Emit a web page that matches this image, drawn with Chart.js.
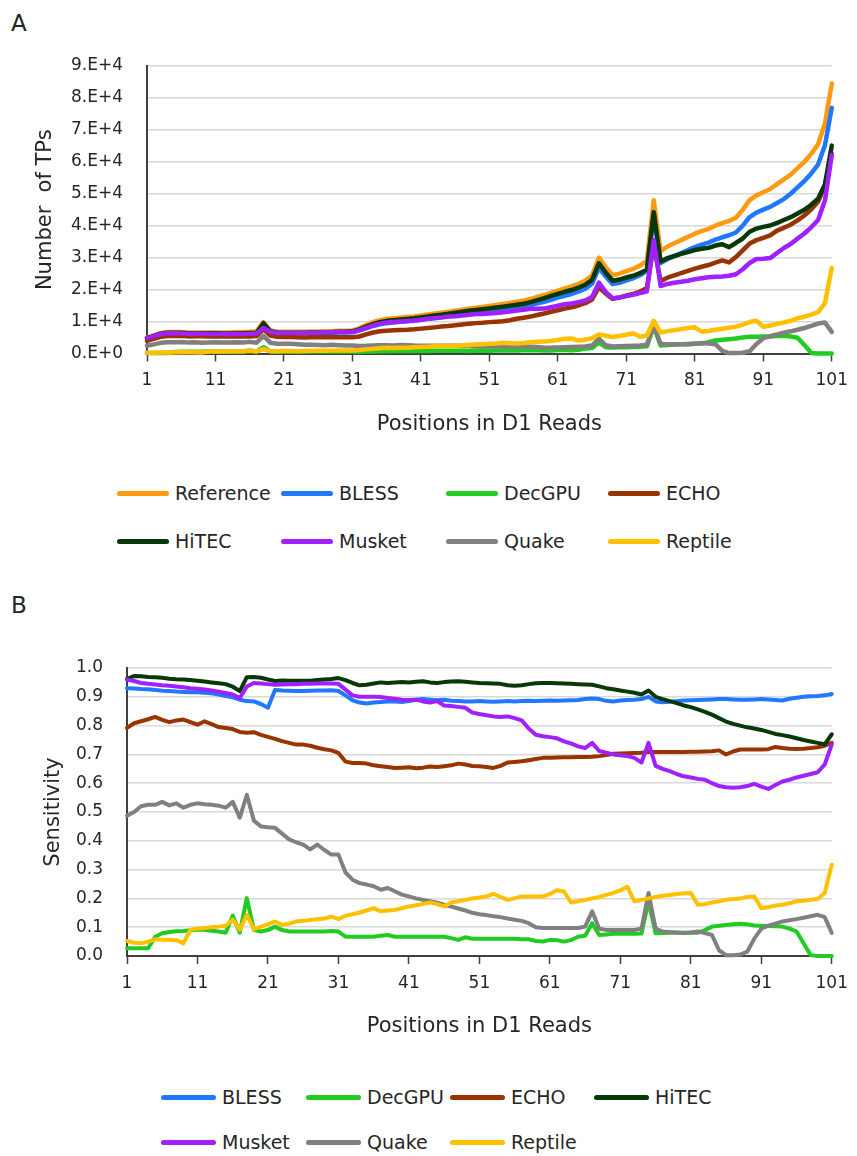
<!DOCTYPE html>
<html>
<head>
<meta charset="utf-8">
<script src="https://cdn.jsdelivr.net/npm/chart.js@4.4.1/dist/chart.umd.min.js"></script>
<style>
  html, body { margin: 0; padding: 0; background: #fff; }
  #page { position: relative; width: 857px; height: 1156px; overflow: hidden;
          font-family: "DejaVu Sans", sans-serif; color: #262626; }
  .panel-label { position: absolute; font-size: 23px; line-height: 23px; }
  .box { position: absolute; left: 0; width: 857px; }
  .legend-item { position: absolute; display: flex; align-items: center; font-size: 19px;
                 line-height: 22px; white-space: nowrap; transform: translateY(-50%); }
  .legend-item .swatch { height: 5px; border-radius: 3px; margin-right: 6px; }
</style>
</head>
<body>
<div id="page">
  <div class="panel-label" style="left:11px;top:12px">A</div>
  <div class="box" style="top:0;height:450px"><canvas id="chartA"></canvas></div>
  <div class="panel-label" style="left:11px;top:594px">B</div>
  <div class="box" style="top:600px;height:450px"><canvas id="chartB"></canvas></div>
  <div id="legendA"></div>
  <div id="legendB"></div>
</div>
<script>
// ---- categories ----
const positions = [];
for (let p = 1; p <= 101; p++) positions.push(String(p));

const toolsA = ['Reference', 'BLESS', 'DecGPU', 'ECHO', 'HiTEC', 'Musket', 'Quake', 'Reptile'];
const toolsB = ['BLESS', 'DecGPU', 'ECHO', 'HiTEC', 'Musket', 'Quake', 'Reptile'];

const toolColors = {
  Reference: '#FF9A0F', BLESS: '#1F78FF', DecGPU: '#1FCC1F', ECHO: '#993300',
  HiTEC: '#073807', Musket: '#A020FF', Quake: '#808080', Reptile: '#FFC000'
};

// ---- panel A: number of true positives per read position ----
const referenceTP = [5000,5700,6400,6700,6700,6700,6600,6600,6600,6600,
  6600,6600,6600,6700,6700,6800,7000,9800,7200,6800,
  6800,6800,6800,6800,6900,6900,7000,7000,7100,7100,
  7200,7900,8900,9800,10400,10800,11000,11200,11400,11600,
  11900,12200,12500,12800,13100,13400,13700,14000,14300,14600,
  14900,15200,15500,15800,16200,16600,17100,17700,18300,19000,
  19700,20400,21000,21800,22800,24500,30000,27000,24500,25000,
  25800,26500,27500,29000,48000,32000,33500,34500,35500,36500,
  37500,38300,39000,40000,40800,41500,42500,45000,48000,49500,
  50500,51500,53000,54500,56000,58000,60000,62500,65500,72000,
  84500];
const blessTP = [4650,5300,5930,6200,6190,6170,6070,6060,6050,6050,
  6050,6030,6020,6080,6050,6110,6230,8670,6360,5950,
  5860,6280,6270,6260,6350,6350,6450,6450,6550,6550,
  6620,7150,7900,8620,9120,9500,9700,9900,10080,10230,
  10530,10860,11150,11390,11630,11930,12140,12390,12640,12910,
  13190,13440,13690,13970,14340,14670,15130,15680,16200,16830,
  17470,18070,18630,19360,20270,21850,26820,24080,21710,22100,
  22880,23560,24480,25870,43200,28290,29510,30460,31420,32380,
  33300,34050,34710,35640,36390,37020,37870,40050,42720,44100,
  45050,45890,47120,48340,50010,52030,54000,56380,59150,65160,
  76900];
const decgpuTP = [140,150,170,180,450,530,550,570,570,590,
  600,600,580,570,540,950,570,1970,660,580,
  610,690,610,590,590,590,600,600,600,600,
  610,530,600,660,700,720,770,820,760,780,
  800,820,840,860,880,900,850,780,930,880,
  890,910,930,950,970,1000,990,1030,950,950,
  1100,1120,1050,1200,1530,1720,3420,1970,1840,1930,
  1990,2040,2120,2260,8500,2530,2680,2790,2880,2960,
  3040,3100,3510,4080,4280,4480,4680,5040,5280,5250,
  5300,5360,5460,5560,5320,4930,2640,190,0,0,
  0];
const echoTP = [3960,4610,5220,5510,5560,5490,5360,5400,5420,5360,
  5300,5380,5310,5330,5310,5360,5450,7600,5590,5220,
  5170,5130,5070,5030,5060,5060,5110,5060,5100,5070,
  5080,5330,5960,6570,6950,7150,7250,7350,7440,7590,
  7790,7950,8180,8420,8590,8830,9070,9350,9510,9640,
  9820,9970,10120,10430,10890,11190,11560,12040,12520,13070,
  13550,14060,14490,15040,15750,16930,20760,18740,17100,17550,
  18140,18660,19390,20470,33980,22660,23720,24430,25130,25840,
  26590,27150,27690,28440,29130,28500,30180,32270,34420,35490,
  36210,36980,38480,39350,40320,41700,43200,45130,47490,52560,
  62530];
const hitecTP = [4810,5540,6210,6490,6490,6470,6360,6340,6340,6320,
  6310,6290,6270,6340,6320,6390,6440,9490,6980,6570,
  6530,6490,6510,6500,6600,6600,6690,6710,6820,6830,
  6950,7570,8440,9210,9800,10220,10450,10620,10830,11030,
  11310,11610,11930,12160,12420,12740,13060,13360,13610,13870,
  14130,14390,14660,14930,15230,15570,16070,16710,17330,18010,
  18680,19320,19870,20600,21520,23100,28260,25270,22790,23150,
  23790,24330,25140,26330,44260,28800,29880,30530,31170,31760,
  32400,32780,33070,33800,34200,33300,34600,36000,38110,39110,
  39640,40070,40860,41800,42670,43850,45000,46560,48470,52920,
  65070];
const musketTP = [4800,5440,6070,6330,6320,6300,6190,6180,6160,6140,
  6120,6110,6090,6150,6120,6170,6270,8000,6830,6430,
  6420,6410,6410,6420,6510,6520,6620,6620,6720,6720,
  6800,7310,8050,8820,9360,9720,9890,10040,10180,10320,
  10580,10860,11050,11260,11590,11660,11890,12110,12330,12340,
  12520,12710,12900,13110,13480,13710,13990,13980,14050,14500,
  14970,15420,15650,16090,16600,17690,22200,19220,17300,17500,
  17980,18390,18920,19490,35520,21120,21780,22150,22440,22780,
  23250,23550,23870,24000,24070,24320,24820,26370,28320,29600,
  29690,29870,31480,33030,34270,35960,37560,39500,41790,47880,
  62110];
const quakeTP = [2440,2850,3330,3520,3520,3580,3450,3500,3400,3470,
  3500,3480,3470,3500,3450,3640,3360,5490,3380,3060,
  3040,3030,2890,2750,2730,2670,2590,2710,2610,2500,
  2530,2370,2400,2480,2580,2610,2530,2640,2570,2470,
  2460,2440,2440,2430,2420,2390,2360,2310,2260,2190,
  2160,2160,2140,2130,2110,2090,2090,2020,1830,1840,
  1910,1980,2040,2110,2210,2500,4650,2570,2210,2250,
  2320,2390,2480,2760,8800,3040,2850,2860,2910,2920,
  3080,3260,3120,2920,820,120,130,230,720,2970,
  4800,5410,5940,6540,6940,7420,7980,8630,9370,9720,
  6760];
const reptileTP = [260,260,280,340,390,380,370,360,290,600,
  630,640,660,680,700,860,640,1400,670,690,
  750,820,730,760,830,840,880,900,920,970,
  920,1110,1290,1480,1640,1790,1710,1770,1820,1930,
  2050,2150,2260,2380,2360,2300,2550,2660,2790,2920,
  3020,3150,3350,3240,3160,3320,3540,3660,3790,3930,
  4240,4650,4700,4050,4330,4780,6000,5540,5190,5480,
  5880,6360,5230,5660,10200,6560,7000,7310,7630,7960,
  8210,6820,7020,7440,7750,8090,8420,9000,9840,10250,
  8380,8760,9280,9700,10250,11020,11520,12190,12970,15770,
  26790];

// ---- panel B: sensitivity per read position ----
const blessSens = [.930,.929,.927,.926,.924,.921,.920,.918,.917,.916,
  .916,.914,.912,.908,.903,.898,.890,.885,.884,.875,
  .862,.924,.922,.921,.920,.920,.921,.922,.922,.923,
  .920,.905,.888,.880,.877,.880,.882,.884,.884,.882,
  .885,.890,.892,.890,.888,.890,.886,.885,.884,.884,
  .885,.884,.883,.884,.885,.884,.885,.886,.885,.886,
  .887,.886,.887,.888,.889,.892,.894,.892,.886,.884,
  .887,.889,.890,.892,.900,.884,.881,.883,.885,.887,
  .888,.889,.890,.891,.892,.892,.891,.890,.890,.891,
  .892,.891,.889,.887,.893,.897,.900,.902,.903,.905,
  .910];
const decgpuSens = [.027,.027,.027,.027,.067,.079,.083,.086,.087,.089,
  .091,.091,.088,.085,.081,.140,.081,.201,.091,.085,
  .090,.102,.090,.085,.085,.085,.085,.085,.085,.087,
  .085,.067,.067,.067,.067,.067,.070,.073,.067,.067,
  .067,.067,.067,.067,.067,.067,.062,.056,.065,.060,
  .060,.060,.060,.060,.060,.060,.058,.058,.052,.050,
  .056,.055,.050,.055,.067,.070,.114,.073,.075,.077,
  .077,.077,.077,.078,.190,.079,.080,.081,.081,.081,
  .081,.081,.090,.102,.105,.108,.110,.112,.110,.106,
  .105,.104,.103,.102,.095,.085,.044,.003,0,0,
  0];
const echoSens = [.792,.808,.815,.822,.830,.820,.812,.818,.821,.812,
  .803,.815,.805,.795,.792,.788,.778,.775,.777,.768,
  .761,.754,.746,.740,.734,.734,.730,.723,.718,.714,
  .705,.675,.670,.670,.668,.662,.659,.656,.653,.654,
  .655,.652,.654,.658,.656,.659,.662,.668,.665,.660,
  .659,.656,.653,.660,.672,.674,.676,.680,.684,.688,
  .688,.689,.690,.690,.691,.691,.692,.694,.698,.702,
  .703,.704,.705,.706,.708,.708,.708,.708,.708,.708,
  .709,.709,.710,.711,.714,.700,.710,.717,.717,.717,
  .717,.718,.726,.722,.720,.719,.720,.722,.725,.730,
  .740];
const hitecSens = [.962,.972,.971,.969,.968,.966,.963,.961,.960,.958,
  .956,.953,.950,.947,.944,.935,.920,.968,.969,.966,
  .960,.955,.957,.956,.956,.956,.956,.958,.960,.962,
  .965,.958,.948,.940,.942,.946,.950,.948,.950,.951,
  .950,.952,.954,.950,.948,.951,.953,.954,.952,.950,
  .948,.947,.946,.945,.940,.938,.940,.944,.947,.948,
  .948,.947,.946,.945,.944,.943,.942,.936,.930,.926,
  .922,.918,.914,.908,.922,.900,.892,.885,.878,.870,
  .864,.856,.848,.838,.826,.814,.806,.800,.794,.790,
  .785,.778,.771,.767,.762,.756,.750,.745,.740,.735,
  .770];
const musketSens = [.960,.955,.948,.945,.943,.940,.938,.936,.933,.930,
  .928,.925,.922,.918,.913,.908,.896,.936,.948,.946,
  .944,.942,.943,.944,.944,.945,.945,.946,.946,.946,
  .945,.925,.905,.900,.900,.900,.899,.896,.893,.890,
  .889,.890,.884,.880,.885,.870,.868,.865,.862,.845,
  .840,.836,.832,.830,.832,.826,.818,.790,.768,.763,
  .760,.756,.745,.738,.728,.722,.740,.712,.706,.700,
  .697,.694,.688,.672,.740,.660,.650,.642,.632,.624,
  .620,.615,.612,.600,.590,.586,.584,.586,.590,.598,
  .588,.580,.594,.606,.612,.620,.626,.632,.638,.665,
  .735];
const quakeSens = [.487,.500,.520,.525,.525,.535,.523,.530,.515,.525,
  .530,.527,.525,.522,.515,.535,.480,.560,.470,.450,
  .447,.445,.425,.405,.395,.387,.370,.387,.368,.352,
  .352,.290,.265,.253,.248,.242,.230,.236,.225,.213,
  .207,.200,.195,.190,.185,.178,.172,.165,.158,.150,
  .145,.142,.138,.135,.130,.126,.122,.114,.100,.097,
  .097,.097,.097,.097,.097,.102,.155,.095,.090,.090,
  .090,.090,.090,.095,.219,.095,.085,.083,.082,.080,
  .082,.085,.080,.073,.020,.003,.003,.005,.015,.060,
  .095,.105,.112,.120,.124,.128,.133,.138,.143,.135,
  .080];
const reptileSens = [.052,.046,.044,.050,.058,.056,.056,.055,.044,.091,
  .095,.097,.100,.102,.105,.126,.091,.143,.093,.102,
  .110,.120,.108,.112,.120,.122,.125,.128,.130,.137,
  .128,.140,.145,.151,.158,.166,.155,.158,.160,.166,
  .172,.176,.181,.186,.180,.172,.186,.190,.195,.200,
  .203,.207,.216,.205,.195,.200,.207,.207,.207,.207,
  .215,.228,.224,.186,.190,.195,.200,.205,.212,.219,
  .228,.240,.190,.195,.200,.205,.209,.212,.215,.218,
  .219,.178,.180,.186,.190,.195,.198,.200,.205,.207,
  .166,.170,.175,.178,.183,.190,.192,.195,.198,.219,
  .317];

const seriesA = { Reference: referenceTP, BLESS: blessTP, DecGPU: decgpuTP, ECHO: echoTP,
  HiTEC: hitecTP, Musket: musketTP, Quake: quakeTP, Reptile: reptileTP };
const seriesB = { BLESS: blessSens, DecGPU: decgpuSens, ECHO: echoSens, HiTEC: hitecSens,
  Musket: musketSens, Quake: quakeSens, Reptile: reptileSens };

// y tick labels of panel A in Excel's "0.E+0" style
function sciLabel(v) {
  if (v === 0) return '0.E+0';
  const e = Math.floor(Math.log10(v) + 1e-9);
  return Math.round(v / Math.pow(10, e)) + '.E+' + e;
}

Chart.defaults.font.family = '"DejaVu Sans", sans-serif';
Chart.defaults.color = '#262626';
Chart.defaults.animation = false;

const AXIS_DARK = '#404040';
const GRID = '#d9d9d9';
const TICK_FONT = { size: 17 };
const TITLE_FONT = { size: 21 };

function buildDatasets(names, table, width) {
  return names.map((name, i) => ({
    label: name,
    data: table[name],
    borderColor: toolColors[name],
    backgroundColor: toolColors[name],
    borderWidth: width,
    pointRadius: 0,
    tension: 0,
    fill: false,
    borderJoinStyle: 'round',
    borderCapStyle: 'round',
    clip: 8,
    order: names.length - i      // later series painted on top
  }));
}

function buildChart(canvasId, names, table, cfg) {
  return new Chart(document.getElementById(canvasId), {
    type: 'line',
    data: { labels: positions, datasets: buildDatasets(names, table, cfg.lineWidth) },
    options: {
      responsive: true,
      maintainAspectRatio: false,
      events: [],
      layout: { padding: { left: 0, right: cfg.padRight, top: cfg.padTop, bottom: 0 } },
      plugins: { legend: { display: false }, tooltip: { enabled: false } },
      scales: {
        x: {
          type: 'category',
          offset: false,
          afterFit: s => { s.height = cfg.xAxisHeight; },
          border: { display: true, color: AXIS_DARK, width: 2 },
          grid: {
            drawOnChartArea: false,
            drawTicks: true,
            tickLength: 8,
            tickWidth: 1.5,
            tickColor: c => (c.index % 10 === 0 ? AXIS_DARK : 'rgba(0,0,0,0)')
          },
          ticks: {
            autoSkip: false, maxRotation: 0, minRotation: 0, padding: 9,
            font: TICK_FONT, color: '#262626',
            callback: (v, i) => (i % 10 === 0 ? positions[i] : '')
          },
          title: { display: true, text: 'Positions in D1 Reads', font: TITLE_FONT, color: '#262626',
                   padding: { top: 0, bottom: cfg.xTitlePad } }
        },
        y: {
          min: 0, max: cfg.yMax,
          afterFit: s => { s.width = cfg.yAxisWidth; },
          border: { display: true, color: AXIS_DARK, width: 2 },
          grid: { color: GRID, lineWidth: 1.5, drawTicks: false },
          ticks: { stepSize: cfg.yStep, padding: 24, font: TICK_FONT, color: '#262626',
                   callback: cfg.yLabel },
          title: { display: true, text: cfg.yTitle, font: TITLE_FONT, color: '#262626',
                   padding: { top: cfg.yTitlePad, bottom: 0 } }
        }
      }
    }
  });
}

buildChart('chartA', toolsA, seriesA, {
  lineWidth: 4.5, padRight: 25, padTop: 66, xAxisHeight: 96.5, xTitlePad: 12.4,
  yMax: 90000, yStep: 10000, yAxisWidth: 147, yTitlePad: 33.4, yTitle: 'Number  of TPs',
  yLabel: v => sciLabel(v)
});

buildChart('chartB', toolsB, seriesB, {
  lineWidth: 4, padRight: 24, padTop: 68, xAxisHeight: 94, xTitlePad: 10.4,
  yMax: 1, yStep: 0.1, yAxisWidth: 127, yTitlePad: 41, yTitle: 'Sensitivity',
  yLabel: v => v.toFixed(1)
});

// HTML legends laid out in two rows of four columns
function buildLegend(containerId, names, columns, rows, swatchWidth) {
  const host = document.getElementById(containerId);
  names.forEach((name, i) => {
    const item = document.createElement('div');
    item.className = 'legend-item';
    item.style.left = columns[i % 4] + 'px';
    item.style.top = rows[Math.floor(i / 4)] + 'px';
    const sw = document.createElement('span');
    sw.className = 'swatch';
    sw.style.width = swatchWidth + 'px';
    sw.style.background = toolColors[name];
    const tx = document.createElement('span');
    tx.textContent = name;
    item.appendChild(sw);
    item.appendChild(tx);
    host.appendChild(item);
  });
}
buildLegend('legendA', toolsA, [117, 281, 446, 608], [493, 541], 52);
buildLegend('legendB', toolsB, [161, 306, 450, 594], [1097, 1142], 55);
</script>
</body>
</html>
